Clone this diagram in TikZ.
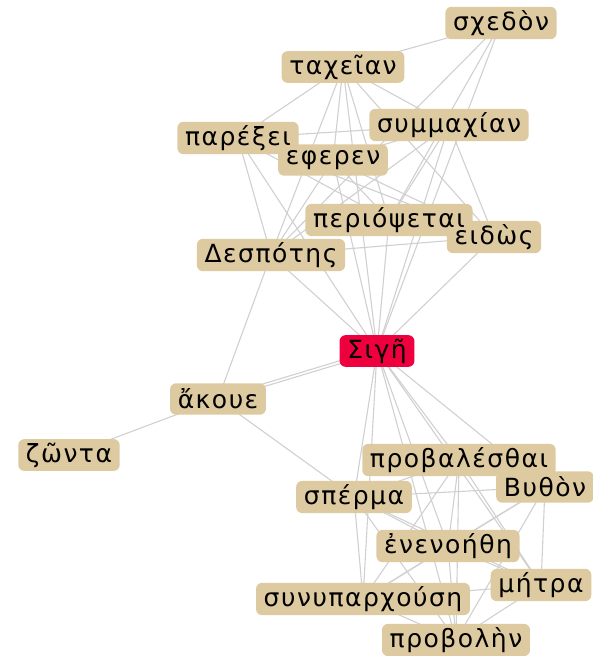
\documentclass[tikz,border=0pt]{standalone}
\usepackage{fontspec}
\setmainfont{DejaVu Sans}[LetterSpace=6]
\definecolor{boxtan}{RGB}{222,202,160}
\definecolor{hubred}{RGB}{238,0,62}
\definecolor{edgegray}{RGB}{208,208,208}
\pgfdeclarelayer{edges}
\pgfdeclarelayer{boxes}
\pgfsetlayers{edges,boxes,main}
\begin{document}
\begin{tikzpicture}[x=1pt,y=-1pt,
  word/.style={inner xsep=7.5pt, minimum height=31pt,
    font=\fontsize{25}{27}\selectfont, text=black},
  plate/.style={fill=boxtan, rounded corners=6pt},
  hubplate/.style={fill=hubred, rounded corners=6pt},
  link/.style={draw=edgegray, line width=1.1pt}]
\useasboundingbox (0,0) rectangle (592,656);
% labels (text on top of every plate)
\node[word] (sxedon) at (501,23) {σχεδὸν};
\node[word] (taxeian) at (343,67) {ταχεῖαν};
\node[word] (symmax) at (449,125) {συμμαχίαν};
\node[word] (eferen) at (333,160) {εφερεν};
\node[word] (parexei) at (238,138) {παρέξει};
\node[word] (eidos) at (494,237) {ειδὼς};
\node[word] (periops) at (389,220) {περιόψεται};
\node[word] (despot) at (271,255) {Δεσπότης};
\node[word] (sige) at (377,351) {Σιγῆ};
\node[word] (akoue) at (218,399) {ἄκουε};
\node[word] (zonta) at (69,455) {ζῶντα};
\node[word] (bython) at (545,487) {Βυθὸν};
\node[word] (probal) at (459,460) {προβαλέσθαι};
\node[word] (sperma) at (354,497) {σπέρμα};
\node[word] (enen) at (448,546) {ἐνενοήθη};
\node[word] (metra) at (541,585) {μήτρα};
\node[word] (synyp) at (363,599) {συνυπαρχούση};
\node[word] (probol) at (456,640) {προβολὴν};
% rounded plates under the labels
\begin{pgfonlayer}{boxes}
  \foreach \n in {sxedon,taxeian,symmax,eferen,parexei,eidos,periops,despot,akoue,zonta,
      bython,probal,sperma,enen,metra,synyp,probol}
    \fill[plate] (\n.south west) rectangle (\n.north east);
  \fill[hubplate] (sige.south west) rectangle (sige.north east);
\end{pgfonlayer}
% connectors, behind the plates
\begin{pgfonlayer}{edges}
  % hub to the upper group
  \foreach \n in {sxedon,taxeian,symmax,parexei,eferen,periops,eidos,despot}
    \draw[link] (sige.center) -- (\n.center);
  % hub to the lower group
  \foreach \n in {probal,bython,sperma,enen,metra,synyp,probol}
    \draw[link] (sige.center) -- (\n.center);
  % upper group
  \foreach \a/\b in {taxeian/sxedon, taxeian/parexei, taxeian/eferen, taxeian/periops,
      taxeian/despot, taxeian/eidos, taxeian/symmax, sxedon/periops, sxedon/despot,
      parexei/symmax, parexei/despot, parexei/periops, parexei/eidos,
      eferen/symmax, eferen/despot, eferen/periops, eferen/eidos,
      symmax/despot, symmax/periops, symmax/eidos, despot/eidos}
    \draw[link] (\a.center) -- (\b.center);
  % lower group
  \foreach \a/\b in {probal/bython, probal/sperma, probal/enen, probal/metra, probal/synyp,
      probal/probol, bython/sperma, bython/enen, bython/metra, bython/synyp, bython/probol,
      sperma/enen, sperma/metra, sperma/synyp, sperma/probol, enen/metra, enen/synyp,
      enen/probol, metra/synyp, metra/probol, synyp/probol}
    \draw[link] (\a.center) -- (\b.center);
  % outer links
  \draw[link] (akoue.center) -- (zonta.center);
  \draw[link] (akoue.center) -- (despot.center);
  \draw[link] (akoue.center) -- (sperma.center);
  \draw[link] ([yshift=-1.5pt]akoue.center) -- ([yshift=-1.5pt]sige.center);
  \draw[link] ([yshift=1.5pt]akoue.center) -- ([yshift=1.5pt]sige.center);
\end{pgfonlayer}
\end{tikzpicture}
\end{document}
